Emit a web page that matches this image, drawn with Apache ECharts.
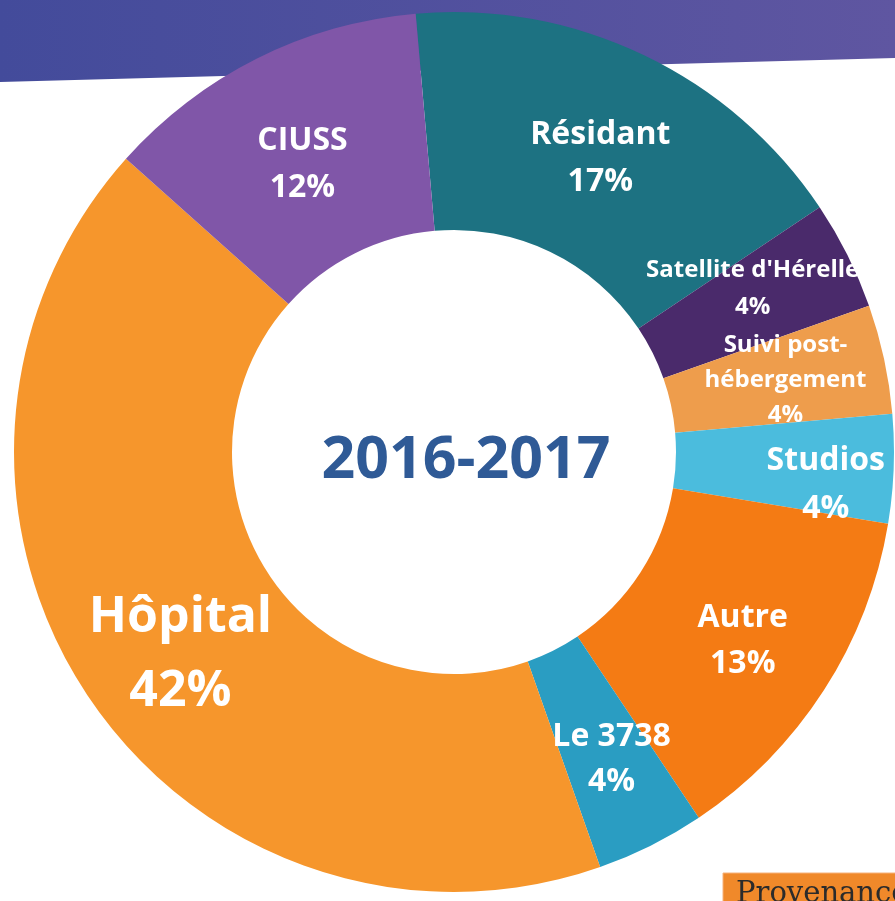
<!DOCTYPE html>
<html>
<head>
<meta charset="utf-8">
<style>
  html, body { margin: 0; padding: 0; background: #fff; }
  #chart { width: 895px; height: 901px; }
</style>
<script src="https://cdn.jsdelivr.net/npm/echarts@6/dist/echarts.min.js"></script>
</head>
<body>
<div id="chart"></div>
<script>
  // 类别 (clockwise from the top)
  var categories = ['Résidant', "Satellite d'Hérelle", 'Suivi post-\nhébergement', 'Studios', 'Autre', 'Le 3738', 'Hôpital', 'CIUSS']
  // 百分比
  var values = [17, 4, 4, 4, 13, 4, 42, 12]
  var colors = ['#1D7282', '#4A2A6B', '#EE9D4C', '#4BBCDD', '#F47B14', '#2A9DC2', '#F6962C', '#8056A8']
  var centerTitle = '2016-2017'
  var boxText = 'Provenance des demandes'

  // label size per slice: [fontSize, lineHeight, offsetX, offsetY]
  var labelStyles = [
    [32, 47, 2, 8],
    [24, 37, 0, -14],
    [24, 35, 5, -1],
    [32, 48, 38, 20],
    [32, 46, 8, 8],
    [32, 45, 8, 9],
    [50, 74, 4, 17],
    [32, 47, -2, 11]
  ]

  var chart = echarts.init(document.getElementById('chart'))

  var data = categories.map(function (name, i) {
    var s = labelStyles[i]
    return {
      name: name,
      value: values[i],
      itemStyle: { color: colors[i] },
      label: { fontSize: s[0], lineHeight: s[1], offset: [s[2], s[3]] }
    }
  })

  chart.setOption({
    backgroundColor: '#fff',
    animation: false,
    graphic: [
      // 顶部横条
      {
        type: 'polygon',
        z: 0,
        shape: { points: [[0, 0], [895, 0], [895, 58], [0, 82]] },
        style: {
          fill: new echarts.graphic.LinearGradient(0, 0, 1, 0, [
            { offset: 0, color: '#434B9B' },
            { offset: 1, color: '#5F56A1' }
          ])
        }
      },
      // 右下角橙色框
      {
        type: 'rect',
        z: 0,
        shape: { x: 723, y: 873, width: 180, height: 40 },
        style: { fill: '#F0892A', stroke: '#F6B27A', lineWidth: 1 }
      },
      {
        type: 'text',
        z: 1,
        left: 736,
        top: 880,
        style: {
          text: boxText,
          fill: '#2b2b2b',
          font: '29px "DejaVu Serif", serif'
        }
      }
    ],
    title: {
      text: centerTitle,
      left: 461,
      top: 456,
      textAlign: 'center',
      textVerticalAlign: 'middle',
      textStyle: {
        color: '#2F5A96',
        fontSize: 59,
        fontWeight: 'bold',
        fontFamily: '"Open Sans", sans-serif'
      }
    },
    series: [{
      type: 'pie',
      z: 2,
      center: [454, 452],
      radius: [222, 440],
      startAngle: 95,
      clockwise: true,
      avoidLabelOverlap: false,
      labelLayout: { hideOverlap: false },
      label: {
        show: true,
        position: 'inside',
        formatter: '{b}\n{c}%',
        color: '#fff',
        fontWeight: 'bold',
        fontFamily: '"Open Sans", sans-serif',
        align: 'center',
        overflow: 'none'
      },
      labelLine: { show: false },
      emphasis: { disabled: true },
      data: data
    }]
  })
</script>
</body>
</html>
